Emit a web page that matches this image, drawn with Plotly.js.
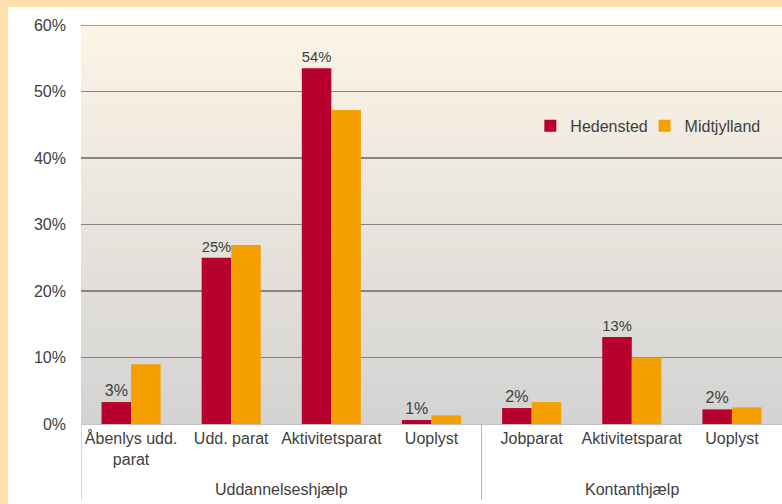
<!DOCTYPE html>
<html>
<head>
<meta charset="utf-8">
<script src="https://cdn.plot.ly/plotly-3.0.1.min.js"></script>
<style>
  html, body { margin: 0; padding: 0; background: #fde0ae; width: 782px; height: 504px; overflow: hidden; }
  #chart { position: absolute; left: 8px; top: 7px; width: 774px; height: 497px; }
</style>
</head>
<body>
<div id="chart"></div>
<script>
// ---- data ----
const categories = ["Åbenlys udd.<br>parat", "Udd. parat", "Aktivitetsparat", "Uoplyst", "Jobparat", "Aktivitetsparat", "Uoplyst"];
const groups = ["Uddannelseshjælp", "Kontanthjælp"];
const groupCenters = [1.5, 5];
const groupDividers = [-0.5, 3.5];
const seriesNames = ["Hedensted", "Midtjylland"];
const hedensted = [3.3, 25.0, 53.5, 0.6, 2.4, 13.1, 2.2];
const midtjylland = [9.0, 26.9, 47.2, 1.3, 3.3, 10.0, 2.5];
const yTicks = [0, 10, 20, 30, 40, 50, 60];

const idx = categories.map((c, i) => i);
const font = "Liberation Sans, Arial, sans-serif";
const txt = "#404040";
const fs = 16;

const traces = [
  {
    type: "bar", name: seriesNames[0], x: idx, y: hedensted,
    marker: { color: "#b8002f" }, legend: "legend",
    texttemplate: "%{y:.0f}%", textposition: "outside", cliponaxis: false,
    textfont: { family: font, size: fs, color: txt },
    hoverinfo: "none"
  },
  {
    type: "bar", name: seriesNames[1], x: idx, y: midtjylland,
    marker: { color: "#f5a000" }, legend: "legend2",
    hoverinfo: "none"
  }
];

// background gradient (cream top -> gray bottom)
const shapes = [];
const steps = 60;
const gTop = [253, 244, 230], gBot = [211, 211, 211];
for (let s = 0; s < steps; s++) {
  const t = (s + 0.5) / steps;
  const c = gTop.map((v, k) => Math.round(gBot[k] + (v - gBot[k]) * t));
  shapes.push({
    type: "rect", xref: "paper", yref: "paper", layer: "below",
    x0: 0, x1: 1, y0: s / steps, y1: (s + 1) / steps + 0.002,
    fillcolor: `rgb(${c[0]},${c[1]},${c[2]})`, line: { width: 0 }
  });
}
// top gridline (drawn at plot edge)
shapes.push({
  type: "line", xref: "paper", yref: "y", x0: 0, x1: 1,
  y0: yTicks[yTicks.length - 1], y1: yTicks[yTicks.length - 1],
  line: { color: "#858585", width: 1.5 }
});
groupDividers.forEach(d => shapes.push({
  type: "line", xref: "x", yref: "paper", x0: d, x1: d, y0: 0, y1: -0.19,
  line: { color: "#b0b0b0", width: 1 }
}));

const annotations = groups.map((g, i) => ({
  text: g, xref: "x", yref: "paper", x: groupCenters[i], y: -0.163,
  xanchor: "center", yanchor: "middle", showarrow: false,
  font: { family: font, size: fs, color: txt }
}));

const legendBase = {
  orientation: "h", y: 0.747, xanchor: "left", yanchor: "middle",
  itemwidth: 30, bgcolor: "rgba(0,0,0,0)", font: { family: font, size: fs, color: txt }
};

const layout = {
  width: 774, height: 497,
  margin: { l: 73, r: 0, t: 18, b: 80 },
  paper_bgcolor: "#ffffff",
  plot_bgcolor: "rgba(0,0,0,0)",
  font: { family: font, size: fs, color: txt },
  barmode: "group",
  bargap: 0.41,
  bargroupgap: 0,
  showlegend: true,
  legend: Object.assign({}, legendBase, { x: 0.641 }),
  legend2: Object.assign({}, legendBase, { x: 0.804 }),
  xaxis: {
    range: [-0.5, 6.5], tickvals: idx, ticktext: categories,
    showgrid: false, zeroline: false, showline: true, linecolor: "#c4c4c4", linewidth: 1,
    ticks: "", tickfont: { family: font, size: fs, color: txt }, fixedrange: true
  },
  yaxis: {
    range: [0, 60], tickvals: yTicks, ticktext: yTicks.map(v => v + "%"),
    showgrid: true, gridcolor: "#858585", gridwidth: 1.5,
    zeroline: true, zerolinecolor: "#c4c4c4", zerolinewidth: 1,
    showline: false, ticks: "", ticklabelstandoff: 14,
    tickfont: { family: font, size: fs, color: txt }, fixedrange: true
  },
  shapes: shapes,
  annotations: annotations
};

Plotly.newPlot("chart", traces, layout, { displayModeBar: false, staticPlot: true });
</script>
</body>
</html>
